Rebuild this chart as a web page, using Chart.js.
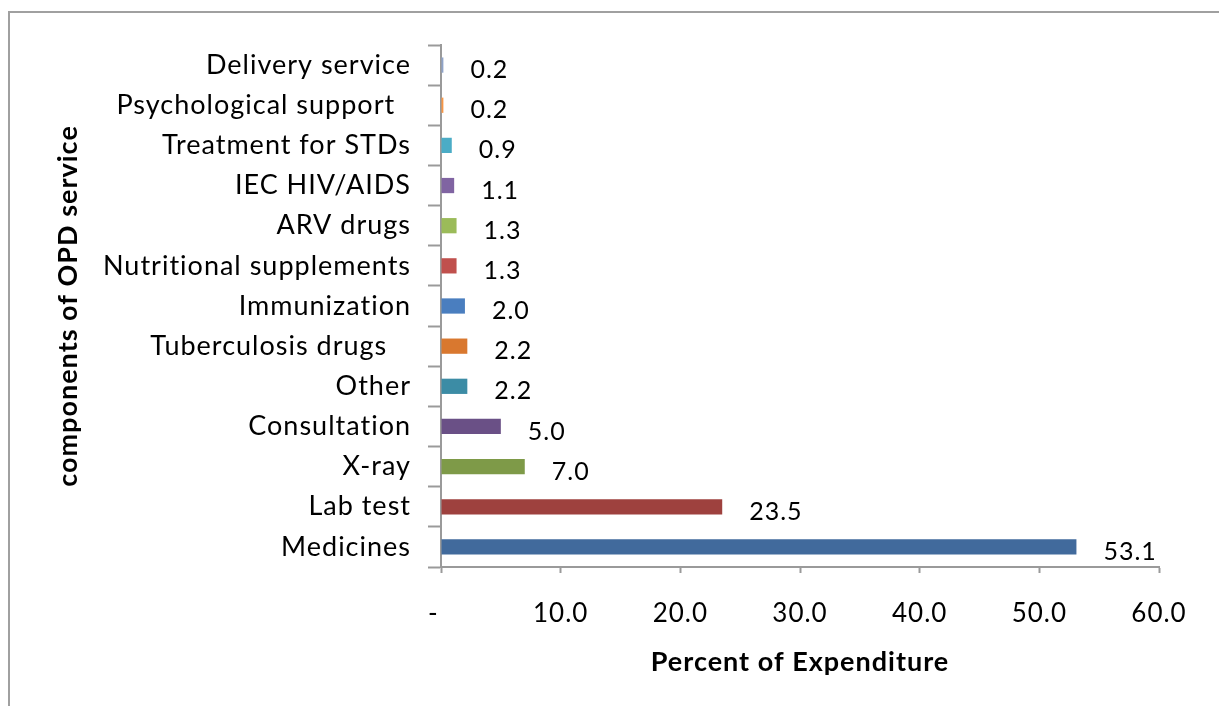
<!DOCTYPE html>
<html>
<head>
<meta charset="utf-8">
<script src="https://cdn.jsdelivr.net/npm/chart.js@4/dist/chart.umd.min.js"></script>
<style>
    body { margin: 0; background: #ffffff; }
    #grafico { display: block; }
</style>
</head>
<body>
<canvas id="grafico" width="1219" height="706"></canvas>
<script>

const categorias = ['Delivery service', 'Psychological support  ', 'Treatment for STDs', 'IEC HIV/AIDS', 'ARV drugs',
    'Nutritional supplements', 'Immunization', 'Tuberculosis drugs   ', 'Other', 'Consultation', 'X-ray', 'Lab test', 'Medicines'];

const percentuais = [0.2, 0.2, 0.9, 1.1, 1.3, 1.3, 2.0, 2.2, 2.2, 5.0, 7.0, 23.5, 53.1];

const cores = ['#8FA3C8', '#F79646', '#4BACC6', '#8064A2', '#9BBB59', '#C0504D', '#4A7EBF',
    '#D9782F', '#3C8CA5', '#6A5086', '#7E9A48', '#9E413E', '#416A9C'];

const ticksX = ['-  ', '10.0', '20.0', '30.0', '40.0', '50.0', '60.0'];

const fonte = 'Lato';

// moldura cinza, espacamento das letras e rotulos de valor
const extras = {
    id: 'extras',
    beforeLayout(chart){
        chart.ctx.letterSpacing = '1px';
    },
    beforeDraw(chart){
        const c = chart.ctx;
        c.letterSpacing = '1px';
        c.save();
        c.strokeStyle = '#a0a0a0';
        c.lineWidth = 2;
        c.beginPath();
        c.moveTo(9, 706);
        c.lineTo(9, 12);
        c.lineTo(1219, 12);
        c.stroke();
        c.restore();
    },
    afterDatasetsDraw(chart){
        const c = chart.ctx;
        const meta = chart.getDatasetMeta(0);
        c.save();
        c.letterSpacing = '1px';
        c.font = '25px ' + fonte;
        c.fillStyle = '#000000';
        c.textAlign = 'left';
        c.textBaseline = 'middle';
        meta.data.forEach((barra, i) => {
            c.fillText(percentuais[i].toFixed(1), barra.x + 27, barra.y + 5);
        });
        c.restore();
    }
};

const ctx = document.getElementById('grafico');

new Chart(ctx, {
    type: 'bar',
    data: {
        labels: categorias,
        datasets: [{
            data: percentuais,
            backgroundColor: cores,
            borderWidth: 0,
            barPercentage: 0.38,
            categoryPercentage: 1
        }]
    },
    options: {
        indexAxis: 'y',
        responsive: false,
        animation: false,
        layout: {
            padding: { left: 0, right: 60, top: 45, bottom: 0 }
        },
        plugins: {
            legend: { display: false },
            tooltip: { enabled: false }
        },
        scales: {
            x: {
                min: 0,
                max: 60,
                afterFit(scale){ scale.height = 139; },
                afterBuildTicks(scale){
                    scale.ticks = ticksX.map((t, i) => ({ value: i * 10 }));
                },
                ticks: {
                    callback: (v, i) => ticksX[i],
                    color: '#000000',
                    padding: 25,
                    maxRotation: 0,
                    font: { family: fonte, size: 26 }
                },
                grid: {
                    drawOnChartArea: false,
                    tickLength: 6,
                    tickColor: '#9a9a9a',
                    tickWidth: 2
                },
                border: { color: '#9a9a9a', width: 2 },
                title: {
                    display: true,
                    text: 'Percent of Expenditure',
                    color: '#000000',
                    padding: { top: 0, bottom: 28 },
                    font: { family: fonte, size: 27, weight: 'bold' }
                }
            },
            y: {
                afterFit(scale){ scale.width = 441; },
                ticks: {
                    color: '#000000',
                    padding: 17,
                    font: { family: fonte, size: 27 }
                },
                grid: {
                    offset: true,
                    drawOnChartArea: false,
                    tickLength: 13,
                    tickColor: '#9a9a9a',
                    tickWidth: 2
                },
                border: { color: '#9a9a9a', width: 2 },
                title: {
                    display: true,
                    text: 'components of OPD service',
                    color: '#000000',
                    padding: { top: 52, bottom: 0 },
                    font: { family: fonte, size: 27, weight: 'bold' }
                }
            }
        }
    },
    plugins: [extras]
});

</script>
</body>
</html>
